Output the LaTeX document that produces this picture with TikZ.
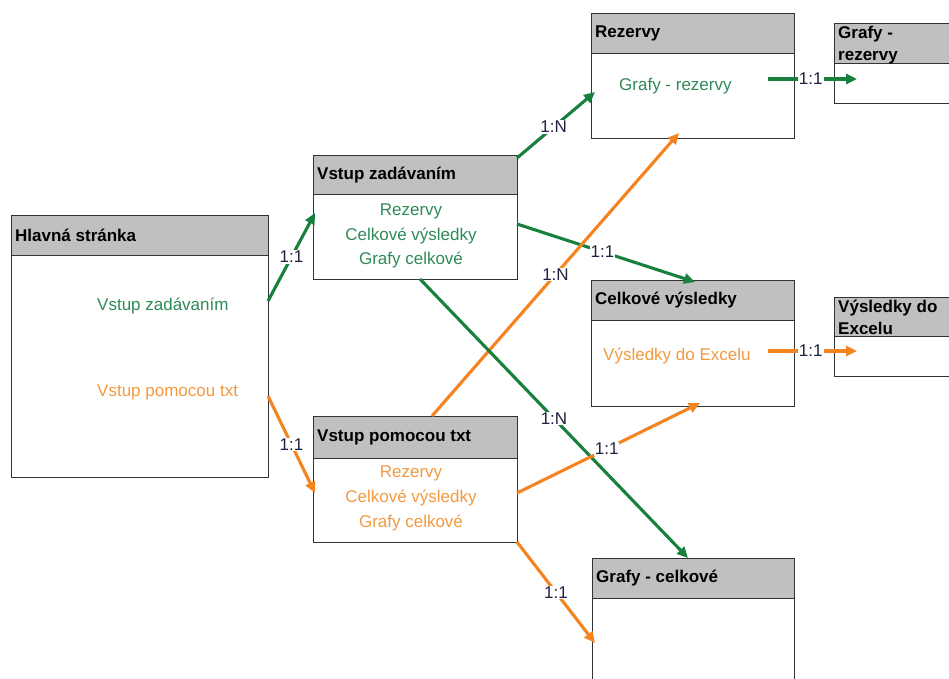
\documentclass[tikz,border=0pt]{standalone}
\usepackage{fontspec}
\setmainfont{Liberation Sans}
\usetikzlibrary{arrows.meta}
\definecolor{gline}{HTML}{17803D}
\definecolor{gtext}{HTML}{2E8B57}
\definecolor{oline}{HTML}{F5841F}
\definecolor{otext}{HTML}{F39A3E}
\definecolor{hdr}{HTML}{C0C0C0}
\definecolor{bord}{HTML}{333333}
\definecolor{lbl}{HTML}{202040}
\begin{document}
\begin{tikzpicture}[x=1pt,y=-1pt,
  font=\fontsize{17}{20}\selectfont,
  body/.style={draw=bord, line width=1.4pt, fill=white, anchor=north west, inner sep=0pt},
  head/.style={draw=bord, line width=1.4pt, fill=hdr, anchor=north west, inner sep=0pt},
  ttl/.style={anchor=west, font=\fontsize{17}{20}\selectfont\bfseries, inner sep=0pt, text=black},
  ttltwo/.style={anchor=west, align=left, font=\fontsize{17}{22}\selectfont\bfseries, inner sep=0pt, text=black},
  gtx/.style={text=gtext, inner sep=0pt},
  otx/.style={text=otext, inner sep=0pt},
  garrow/.style={draw=gline, line width=3.1pt, -{Triangle[length=11pt,width=10pt]}},
  oarrow/.style={draw=oline, line width=3.1pt, -{Triangle[length=11pt,width=10pt]}},
  card/.style={fill=white, text=lbl, inner sep=1pt, font=\fontsize{17}{19}\selectfont}
]
\useasboundingbox[fill=white] (0,0) rectangle (949,678);

% Hlavna stranka
\node[body, minimum width=257pt, minimum height=262pt] (hs) at (11,215) {};
\node[head, minimum width=257pt, minimum height=40pt] (hsh) at (11,215) {};
\node[ttl] (hst) at (15,235) {Hlavná stránka};
\node[gtx, anchor=west] (hs1) at (97,306) {Vstup zadávaním};
\node[otx, anchor=west] (hs2) at (97,392) {Vstup pomocou txt};

% Vstup zadavanim
\node[body, minimum width=204pt, minimum height=124pt] (vz) at (313,155) {};
\node[head, minimum width=204pt, minimum height=39pt] (vzh) at (313,155) {};
\node[ttl] (vzt) at (317,175) {Vstup zadávaním};
\node[gtx] (vz1) at (411,211) {Rezervy};
\node[gtx] (vz2) at (411,236) {Celkové výsledky};
\node[gtx] (vz3) at (411,260) {Grafy celkové};

% Vstup pomocou txt
\node[body, minimum width=204pt, minimum height=126pt] (vp) at (313,416) {};
\node[head, minimum width=204pt, minimum height=42pt] (vph) at (313,416) {};
\node[ttl] (vpt) at (317,437) {Vstup pomocou txt};
\node[otx] (vp1) at (411,473) {Rezervy};
\node[otx] (vp2) at (411,498) {Celkové výsledky};
\node[otx] (vp3) at (411,523) {Grafy celkové};

% Rezervy
\node[body, minimum width=203pt, minimum height=125pt] (rz) at (591,13) {};
\node[head, minimum width=203pt, minimum height=40pt] (rzh) at (591,13) {};
\node[ttl] (rzt) at (595,33) {Rezervy};
\node[gtx, anchor=west] (rz1) at (619,86) {Grafy - rezervy};

% Grafy - rezervy
\node[body, minimum width=130pt, minimum height=80pt] (gr) at (834,23) {};
\node[head, minimum width=130pt, minimum height=40pt] (grh) at (834,23) {};
\node[ttltwo] (grt) at (838,45) {Grafy -\\rezervy};

% Celkove vysledky
\node[body, minimum width=203pt, minimum height=126pt] (cv) at (591,280) {};
\node[head, minimum width=203pt, minimum height=40pt] (cvh) at (591,280) {};
\node[ttl] (cvt) at (595,300) {Celkové výsledky};
\node[otx, anchor=west] (cv1) at (603,356) {Výsledky do Excelu};

% Vysledky do Excelu
\node[body, minimum width=130pt, minimum height=79pt] (ve) at (834,297) {};
\node[head, minimum width=130pt, minimum height=39pt] (veh) at (834,297) {};
\node[ttltwo] (vet) at (838,317) {Výsledky do\\Excelu};

% Grafy - celkove
\node[body, minimum width=202pt, minimum height=140pt] (gc) at (592,558) {};
\node[head, minimum width=202pt, minimum height=40pt] (gch) at (592,558) {};
\node[ttl] (gct) at (596,578) {Grafy - celkové};

% connector end points
\coordinate (a1s) at (268,301); \coordinate (a1e) at (315,213);
\coordinate (a2s) at (268,396); \coordinate (a2e) at (315,493);
\coordinate (a3s) at (517,158); \coordinate (a3e) at (595,92);
\coordinate (a4s) at (517,224); \coordinate (a4e) at (695,282);
\coordinate (a5s) at (420,279); \coordinate (a5e) at (688,558);
\coordinate (a6s) at (432,416); \coordinate (a6e) at (679,133);
\coordinate (a7s) at (517,493); \coordinate (a7e) at (700,403);
\coordinate (a8s) at (517,542); \coordinate (a8e) at (595,643);
\coordinate (a9s) at (768,79);  \coordinate (a9e) at (857,79);
\coordinate (a10s) at (768,351); \coordinate (a10e) at (857,351);

\draw[garrow] (a1s) -- node[card, pos=0.5] {1:1} (a1e);
\draw[oarrow] (a2s) -- node[card, pos=0.5] {1:1} (a2e);
\draw[garrow] (a3s) -- node[card, pos=0.47] {1:N} (a3e);
\draw[garrow] (a4s) -- node[card, pos=0.48] {1:1} (a4e);
\draw[oarrow] (a6s) -- node[card, pos=0.5] {1:N} (a6e);
\draw[garrow] (a5s) -- node[card, pos=0.5] {1:N} (a5e);
\draw[oarrow] (a7s) -- node[card, pos=0.49] {1:1} (a7e);
\draw[oarrow] (a8s) -- node[card, pos=0.5] {1:1} (a8e);
\draw[garrow] (a9s) -- node[card, pos=0.48] {1:1} (a9e);
\draw[oarrow] (a10s) -- node[card, pos=0.48] {1:1} (a10e);
\end{tikzpicture}
\end{document}
